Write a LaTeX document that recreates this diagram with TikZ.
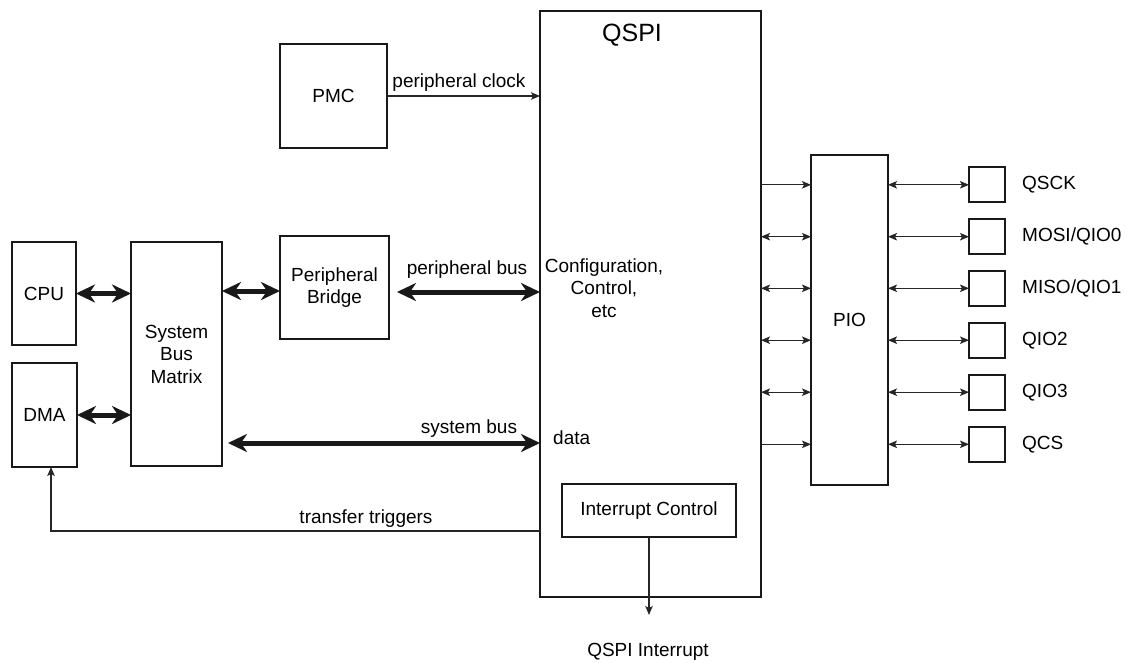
\documentclass[tikz,border=0pt]{standalone}
\usepackage{fontspec}
\setmainfont{Liberation Sans}
\usetikzlibrary{arrows.meta,positioning,calc}
\tikzset{
  box/.style={draw=black!90, line width=2pt, inner sep=0pt, outer sep=0pt, align=center, anchor=north west,
    font=\fontsize{19}{22.5}\selectfont},
  lbl/.style={inner sep=0pt, align=center, font=\fontsize{19}{22.5}\selectfont},
  bus/.style={line width=5pt, black!90, {Stealth[length=19pt,width=18pt,inset=6pt]}-{Stealth[length=19pt,width=18pt,inset=6pt]}},
  sig/.style={line width=1.1pt, black!85, -{Stealth[length=9pt,width=7.5pt,inset=2pt]}},
  bisig/.style={line width=1.1pt, black!85, {Stealth[length=9pt,width=7.5pt,inset=2pt]}-{Stealth[length=9pt,width=7.5pt,inset=2pt]}},
}
\begin{document}
\begin{tikzpicture}[x=1pt,y=-1pt]
\useasboundingbox (0,0) rectangle (1127,662);
% blocks
\node[box, minimum width=64pt, minimum height=103pt] (cpu) at (12,242) {CPU};
\node[box, minimum width=65pt, minimum height=104pt] (dma) at (12,363) {DMA};
\node[box, minimum width=91pt, minimum height=224pt] (sbm) at (131,242) {System\\Bus\\Matrix};
\node[box, minimum width=107pt, minimum height=104pt] (pmc) at (280,44) {PMC};
\node[box, minimum width=109pt, minimum height=103pt] (bridge) at (280,236) {Peripheral\\Bridge};
\node[box, minimum width=221pt, minimum height=586pt] (qspi) at (540,11) {};
\node[box, minimum width=174pt, minimum height=53pt] (intc) at (562,484) {Interrupt Control};
\node[box, minimum width=77pt, minimum height=330pt] (pio) at (811,155) {PIO};
% texts inside QSPI
\node[lbl, font=\fontsize{25}{30}\selectfont] (qtitle) at (632,35) {QSPI};
\node[lbl] (cfg) at (604,288) {Configuration,\\Control,\\etc};
\node[lbl, anchor=west] (data) at (553,438) {data};
% pins
\foreach \n/\y/\t in {p1/184.8/QSCK, p2/236.7/MOSI\slash QIO0, p3/288.3/MISO\slash QIO1, p4/340.2/QIO2, p5/392.2/QIO3, p6/444.3/QCS}{
  \node[box, anchor=west, minimum width=36pt, minimum height=35pt] (\n) at (969,\y) {};
  \node[lbl, anchor=west] (\n l) at (1022,\y) {\t};
}
% helper coordinates
\coordinate (y291) at (0,291);
\coordinate (y292) at (0,292);
\coordinate (y443) at (0,443);
\coordinate (tt) at (51,531);
\coordinate (irqend) at (649,615);
% buses
\draw[bus] (cpu.east) -- (sbm.west |- cpu.east);
\draw[bus] (dma.east) -- (sbm.west |- dma.east);
\draw[bus] (sbm.east |- y291) -- (bridge.west |- y291);
\draw[bus, shorten <=8pt] (bridge.east |- y292) -- (qspi.west |- y292);
\draw[bus, shorten <=6pt] (sbm.east |- y443) -- (qspi.west |- y443);
% signals
\draw[sig] (pmc.east) -- (qspi.west |- pmc.east);
\draw[sig] (qspi.west |- tt) -| (dma.south -| tt);
\draw[sig] (intc.south) -- (intc.south |- irqend);
\node[lbl] (irq) at (648,652) {QSPI Interrupt};
% labels
\node[lbl] (lclk) at (459,83) {peripheral clock};
\node[lbl] (lpb) at (467,270) {peripheral bus};
\node[lbl] (lsb) at (469,429) {system bus};
\node[lbl] (ltt) at (366,519) {transfer triggers};
% PIO connections
\draw[sig] (qspi.east |- p1) -- (pio.west |- p1);
\draw[sig] (qspi.east |- p6) -- (pio.west |- p6);
\foreach \n in {p2,p3,p4,p5}{
  \draw[bisig] (qspi.east |- \n) -- (pio.west |- \n);
}
\foreach \n in {p1,p2,p3,p4,p5,p6}{
  \draw[bisig] (pio.east |- \n) -- (\n.west);
}
\end{tikzpicture}
\end{document}
